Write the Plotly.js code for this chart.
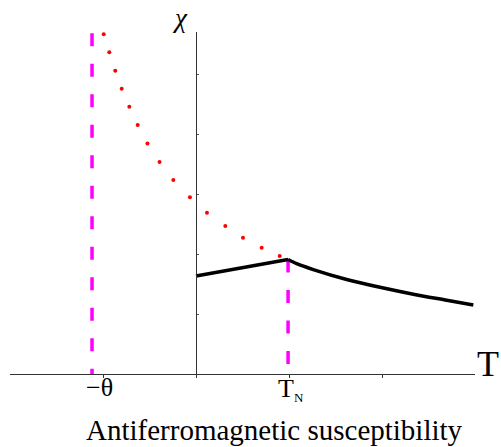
<!DOCTYPE html>
<html>
<head>
<meta charset="utf-8">
<script src="https://cdn.plot.ly/plotly-3.0.1.min.js"></script>
<style>html,body{margin:0;padding:0;background:#fff;}#plot{width:501px;height:447px;}</style>
</head>
<body>
<div id="plot"></div>
<script>
// Data (T in tick units, chi in tick units)
const theta = -1.118;          // position of -theta
const TN = 0.99;               // Neel temperature
const TNchi = 1.908;           // chi at T_N
const chiTop = 5.68;           // top of the -theta guide line

// Red dotted Curie-Weiss extrapolation (below T_N)
const cwT   = [-0.992, -0.932, -0.868, -0.799, -0.717, -0.627, -0.522, -0.392, -0.244, -0.065, 0.118, 0.315, 0.505, 0.706, 0.900];
const cwChi = [5.662, 5.362, 5.055, 4.755, 4.455, 4.150, 3.842, 3.533, 3.233, 2.945, 2.688, 2.467, 2.272, 2.105, 1.967];

// Black measured susceptibility curve
const afT   = [0, 0.99, 1.083, 1.261, 1.620, 1.978, 2.337, 2.696, 2.982];
const afChi = [1.633, 1.908, 1.838, 1.740, 1.575, 1.445, 1.330, 1.230, 1.150];

const xTicks = [-1, 0, 1, 2];
const yTicks = [1, 2, 3, 4, 5];

const serif = "Liberation Serif, Times New Roman, serif";

const traces = [
  {x: [theta, theta], y: [chiTop, 0], mode: 'lines',
   line: {color: '#ff00ff', width: 3.5, dash: '13px,17.5px'}, hoverinfo: 'skip'},
  {x: [TN, TN], y: [TNchi, 0], mode: 'lines',
   line: {color: '#ff00ff', width: 3.5, dash: '13px,17.5px'}, hoverinfo: 'skip'},
  {x: cwT, y: cwChi, mode: 'markers',
   marker: {color: '#ff0000', size: 4}, hoverinfo: 'skip'},
  {x: afT.slice(0, 2), y: afChi.slice(0, 2), mode: 'lines',
   line: {color: '#000', width: 3.5}, hoverinfo: 'skip'},
  {x: afT.slice(1), y: afChi.slice(1), mode: 'lines',
   line: {color: '#000', width: 3.5, shape: 'spline', smoothing: 0.8}, hoverinfo: 'skip'}
];

const layout = {
  width: 501, height: 447,
  margin: {l: 10, r: 26, t: 32, b: 73},
  paper_bgcolor: '#fff', plot_bgcolor: '#fff',
  showlegend: false,
  xaxis: {range: [-2, 3], showgrid: false, zeroline: false,
          showline: true, linecolor: '#333', linewidth: 1.2,
          tickmode: 'array', tickvals: xTicks, ticks: 'outside', ticklen: 3,
          tickcolor: '#333', tickwidth: 1, showticklabels: false},
  yaxis: {range: [0, 5.7], showgrid: false, zeroline: false,
          anchor: 'free', position: 0.4,
          showline: true, linecolor: '#333', linewidth: 1.2,
          tickmode: 'array', tickvals: yTicks, ticks: 'inside', ticklen: 2,
          tickcolor: '#555', tickwidth: 1, showticklabels: false},
  annotations: [
    {text: '<i>χ</i>', xref: 'x', yref: 'paper', x: -0.06, y: 1.091, xanchor: 'right', yanchor: 'top',
     showarrow: false, font: {family: serif, size: 27, color: '#000'}},
    {text: 'T', xref: 'paper', yref: 'paper', x: 1.029, y: 0.028, xanchor: 'center', yanchor: 'middle',
     showarrow: false, font: {family: serif, size: 36, color: '#000'}},
    {text: '−θ', xref: 'x', yref: 'paper', x: -1.043, y: -0.039, xanchor: 'center', yanchor: 'middle',
     showarrow: false, font: {family: serif, size: 26, color: '#000'}},
    {text: 'T<sub><span style="font-size:13px">N</span></sub>', xref: 'x', yref: 'paper', x: 1.02, y: -0.045, xanchor: 'center', yanchor: 'middle',
     showarrow: false, font: {family: serif, size: 26, color: '#000'}},
    {text: 'Antiferromagnetic susceptibility', xref: 'paper', yref: 'paper', x: 0.568, y: -0.165,
     xanchor: 'center', yanchor: 'middle', showarrow: false, font: {family: serif, size: 29, color: '#000'}}
  ]
};

Plotly.newPlot('plot', traces, layout, {staticPlot: true, displayModeBar: false});
</script>
</body>
</html>
